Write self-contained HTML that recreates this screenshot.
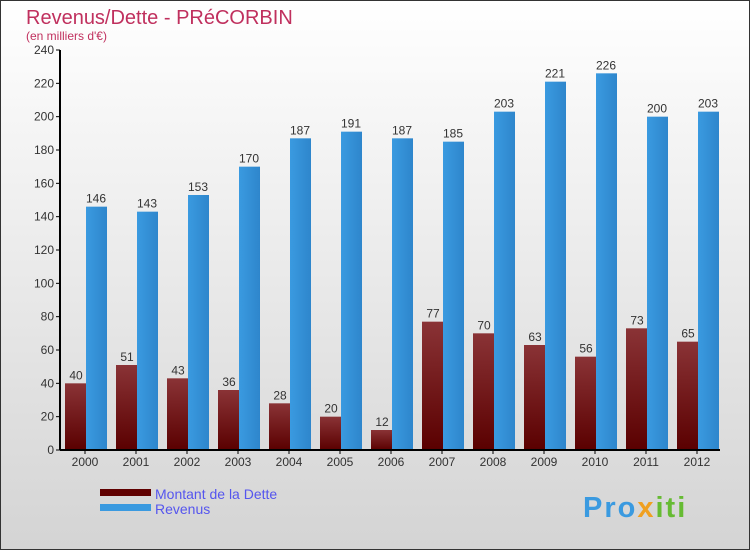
<!DOCTYPE html>
<html><head><meta charset="utf-8"><style>
body{margin:0}
svg text{font-family:"Liberation Sans",sans-serif}
</style></head><body>
<svg id="c" width="750" height="550" xmlns="http://www.w3.org/2000/svg">
<defs>
<linearGradient id="bg" x1="0" y1="0" x2="0" y2="1"><stop offset="0" stop-color="#ffffff"/><stop offset="1" stop-color="#d4d4d4"/></linearGradient>
<linearGradient id="gd" x1="0" y1="0" x2="0" y2="1"><stop offset="0" stop-color="#8a3336"/><stop offset="1" stop-color="#5a0000"/></linearGradient>
<linearGradient id="gr" x1="0" y1="0" x2="1" y2="0"><stop offset="0" stop-color="#3a9ae0"/><stop offset="1" stop-color="#2e86cc"/></linearGradient>
</defs>
<rect x="0.5" y="0.5" width="749" height="549" fill="url(#bg)" stroke="#333"/>
<text x="26" y="24" font-size="20" fill="#c0305e">Revenus/Dette - PRéCORBIN</text>
<text x="26" y="40" font-size="12" fill="#c0305e">(en milliers d'€)</text>
<g id="plot"></g>
<rect x="100" y="489" width="51" height="7" fill="#600000"/>
<text x="155" y="499" font-size="14" fill="#5555ee">Montant de la Dette</text>
<rect x="100" y="504" width="51" height="7" fill="#3a9ae0"/>
<text x="155" y="514" font-size="14" fill="#5555ee">Revenus</text>
<text x="583" y="517" font-size="29" font-weight="bold" letter-spacing="2" fill="#3a9ae0">Pro<tspan fill="#f0a020">x</tspan><tspan fill="#66bb33">iti</tspan></text>
</svg>
<script>
const years=["2000","2001","2002","2003","2004","2005","2006","2007","2008","2009","2010","2011","2012"];
const dette=[40,51,43,36,28,20,12,77,70,63,56,73,65];
const revenus=[146,143,153,170,187,191,187,185,203,221,226,200,203];
const ticks=[0,20,40,60,80,100,120,140,160,180,200,220,240];
const NS="http://www.w3.org/2000/svg";
const g=document.getElementById('plot');
const y0=450,y1=50,x0=60,step=51,first=85,maxV=240;
const yS=v=>y0-(v/maxV)*(y0-y1);
const xS=i=>first+i*step;
function mk(t,a){const e=document.createElementNS(NS,t);for(const k in a)e.setAttribute(k,a[k]);g.appendChild(e);return e;}
ticks.forEach(t=>{
 const l=mk('line',{x1:x0-4,x2:x0,y1:yS(t),y2:yS(t),stroke:'#000'});
 
 
 const tx=mk('text',{x:x0-6,y:yS(t)+4,'font-size':12,fill:'#333','text-anchor':'end'});
 tx.textContent=t;
 
 
});
years.forEach((yr,i)=>{
 const cx=xS(i);
 const b1=mk('rect',{x:cx-20,y:yS(dette[i]),width:21,height:y0-yS(dette[i]),fill:'url(#gd)'});
 
 
 const b2=mk('rect',{x:cx+1,y:yS(revenus[i]),width:21,height:y0-yS(revenus[i]),fill:'url(#gr)'});
 
 
 const t1=mk('text',{x:cx-9,y:yS(dette[i])-4,'font-size':12,fill:'#333','text-anchor':'middle'});
 t1.textContent=dette[i];
 
 
 const t2=mk('text',{x:cx+11,y:yS(revenus[i])-4,'font-size':12,fill:'#333','text-anchor':'middle'});
 t2.textContent=revenus[i];
 
 
 const tk=mk('line',{x1:cx,x2:cx,y1:y0,y2:y0+4,stroke:'#000'});
 
 
 const xl=mk('text',{x:cx,y:y0+16,'font-size':12,fill:'#333','text-anchor':'middle'});
 xl.textContent=yr;
 
 
});
const ya=mk('line',{x1:x0,x2:x0,y1:y1,y2:y0,stroke:'#000','stroke-width':2});


const xa=mk('line',{x1:x0,x2:720,y1:y0,y2:y0,stroke:'#000','stroke-width':2});


</script>
</body></html>
